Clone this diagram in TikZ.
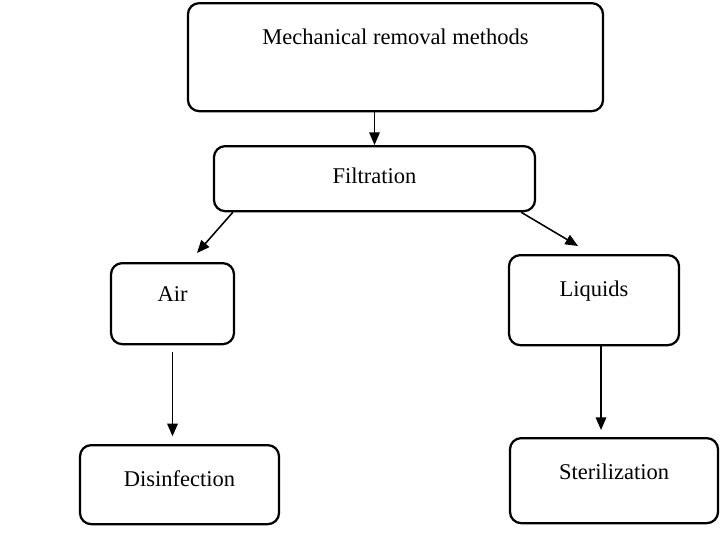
\documentclass[tikz,border=0pt]{standalone}
\usepackage{fontspec}
\setmainfont{Liberation Serif}
\usetikzlibrary{arrows.meta,calc}

\begin{document}
\begin{tikzpicture}[x=0.025cm, y=-0.025cm,
    box/.style={draw, line width=1.6pt, rounded corners=8pt, inner sep=0pt,
                anchor=north, font=\fontsize{16}{19}\selectfont},
    arr/.style={line width=1.1pt, -{Triangle[length=9pt, width=7.5pt]}}]

    % Fix the page to the size of the reference
    \useasboundingbox (0,0) rectangle (720,540);

    % Draw the boxes, text sits near the top of each one
    \node[box, minimum width=10.375cm, text height=1.025cm, text depth=1.675cm]
        (mech) at (395.5,2) {Mechanical removal methods};
    \node[box, minimum width=8.025cm, text height=0.925cm, text depth=0.7cm]
        (filt) at (374.5,145) {Filtration};
    \node[box, minimum width=3.075cm, text height=0.95cm, text depth=1.075cm]
        (air) at (172.5,262) {Air};
    \node[box, minimum width=4.25cm, text height=1.025cm, text depth=1.225cm]
        (liq) at (594,254) {Liquids};
    \node[box, minimum width=4.975cm, text height=1.025cm, text depth=0.95cm]
        (dis) at (179.5,444) {Disinfection};
    \node[box, minimum width=5.2cm, text height=1.025cm, text depth=1.1cm]
        (ster) at (614,437) {Sterilization};

    % Draw the arrows between the boxes
    \draw[arr] (filt.north |- mech.south) -- (filt.north);
    \draw[arr] ($(filt.south west)+(20,0)$) -- ($(air.north)+(24.5,-9)$);
    \draw[arr] ($(filt.south east)+(-15,0)$) -- ($(liq.north)+(-16,-8)$);
    \draw[arr, shorten <=5pt, shorten >=5.5pt] (air.south) -- (air.south |- dis.north);
    \draw[arr, shorten >=5pt] ($(liq.south)+(7,0)$) coordinate (liqout)
        -- (liqout |- ster.north);

\end{tikzpicture}
\end{document}
